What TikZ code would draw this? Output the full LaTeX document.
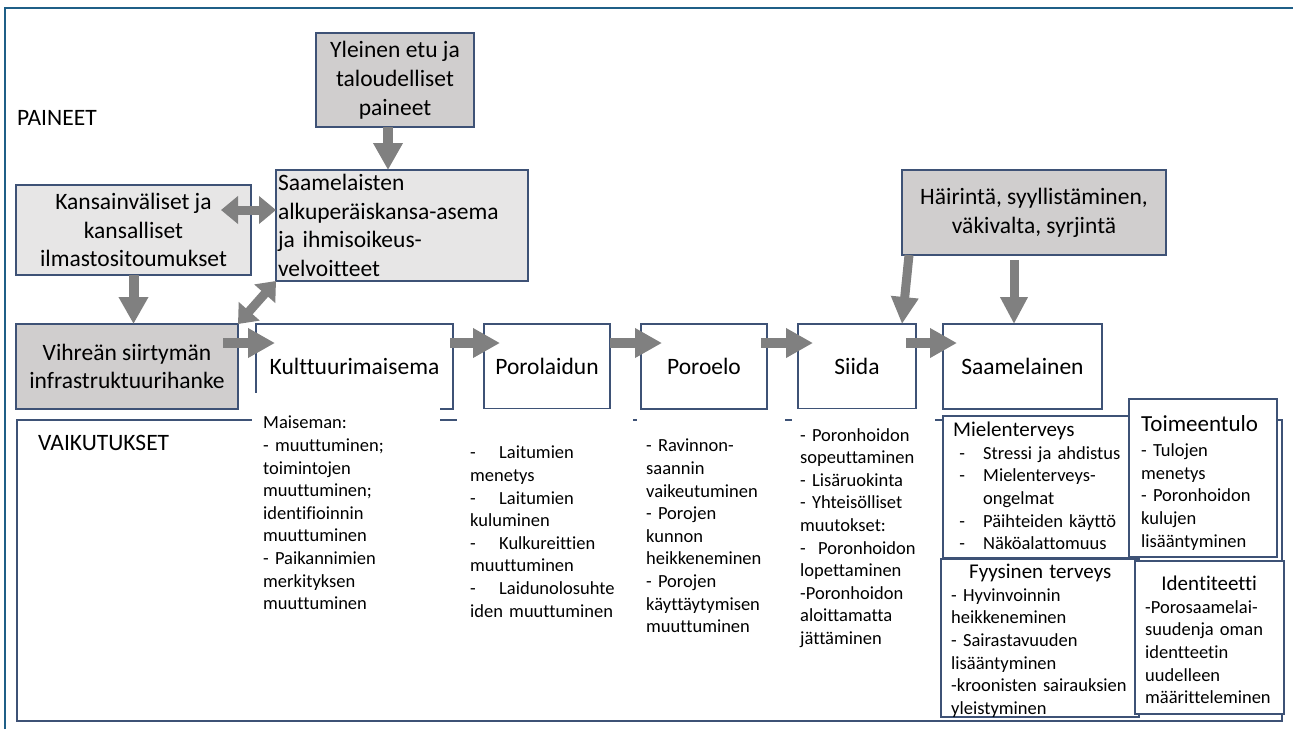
\documentclass[tikz,border=0pt]{standalone}
\usepackage{fontspec}
\setmainfont{Carlito}[Ligatures={NoCommon}]
\usetikzlibrary{arrows.meta}
\definecolor{boxline}{RGB}{62,82,118}
\definecolor{frameblue}{RGB}{31,95,135}
\definecolor{fillgray}{RGB}{231,230,230}
\definecolor{fillgraydark}{RGB}{208,206,206}
\definecolor{arrowgray}{RGB}{128,128,128}
\newcommand{\lblfont}{\fontsize{23.5}{28.8}\selectfont}
\newcommand{\txtfont}{\fontsize{18.5}{22.6}\selectfont\hyphenpenalty=10000\exhyphenpenalty=10000}
\newcommand{\hdfont}{\fontsize{21}{25}\selectfont}
\newcommand{\hdbigfont}{\fontsize{23}{27}\selectfont}
\begin{document}
\begin{tikzpicture}[x=1pt, y=-1pt,
  box/.style={draw=boxline, line width=1.2pt, inner sep=0pt, outer sep=0pt, font=\lblfont, align=center},
  lightbox/.style={box, fill=fillgray},
  darkbox/.style={box, fill=fillgraydark},
  stagebox/.style={box, fill=white, minimum width=#1, minimum height=85pt},
  impactbox/.style={draw=boxline, line width=1.2pt, fill=white, anchor=north west, inner sep=0pt, outer sep=0pt},
  column/.style={anchor=north west, fill=white, font=\txtfont, align=left},
  impacttext/.style={anchor=north west, inner sep=0pt, font=\txtfont, align=left, text width=#1},
  blockarrow/.style={draw=arrowgray, line width=10pt, -{Triangle[width=28pt,length=27pt]}},
  thinarrow/.style={draw=arrowgray, line width=9pt, -{Triangle[width=26pt,length=27pt]}},
  dblarrow/.style={draw=arrowgray, line width=9pt, {Triangle[width=27pt,length=17pt]}-{Triangle[width=27pt,length=17pt]}}]
\useasboundingbox (0,0) rectangle (1293,729);
\draw[frameblue, line width=2pt] (5,729) -- (5,8) -- (1293,8);
\node[anchor=west, inner sep=0pt, font=\lblfont] (paineet) at (17,118) {PAINEET};
\node[darkbox, minimum width=158pt, minimum height=94pt] (yleinen) at (395,80) {Yleinen etu ja\\taloudelliset\\paineet};
\node[lightbox, minimum width=252pt, minimum height=111pt, text width=248pt, align=left] (saamel) at (402,225.5) {Saamelaisten\\alkuperäiskansa-asema\\ja ihmisoikeus-\\velvoitteet};
\node[lightbox, minimum width=235pt, minimum height=90pt] (kansain) at (133.5,230) {Kansainväliset ja\\kansalliset\\ilmastositoumukset};
\node[darkbox, minimum width=264pt, minimum height=85pt] (hairinta) at (1034,212.5) {Häirintä, syyllistäminen,\\väkivalta, syrjintä};
\draw[boxline, line width=1.2pt] (17,420) rectangle (1282,721);
\node[anchor=west, inner sep=0pt, font=\lblfont] (vaikutukset) at (38,443) {VAIKUTUKSET};
\node[darkbox, minimum width=222pt, minimum height=85pt] (vihrea) at (127,366.5) {Vihreän siirtymän\\infrastruktuurihanke};
\node[stagebox=197pt] (kult) at (354.5,366.5) {Kulttuurimaisema};
\node[stagebox=126pt] (porolaidun) at (547,366.5) {Porolaidun};
\node[stagebox=126pt] (poroelo) at (704,366.5) {Poroelo};
\node[stagebox=118pt] (siida) at (857,366.5) {Siida};
\node[stagebox=159pt] (saamelainen) at (1022.5,366.5) {Saamelainen};
\node[column, inner xsep=11pt, inner ysep=23pt, text width=166pt] (maisemalist) at (252,393) {Maiseman:\\- muuttuminen;\\toimintojen\\muuttuminen;\\identifioinnin\\muuttuminen\\- Paikannimien\\merkityksen\\muuttuminen};
\node[column, inner xsep=13pt, inner ysep=37pt, text width=150pt] (laidunlist) at (457,409) {\makebox[29pt][l]{-}Laitumien\\menetys\\\makebox[29pt][l]{-}Laitumien\\kuluminen\\\makebox[29pt][l]{-}Kulkureittien\\muuttuminen\\\makebox[29pt][l]{-}Laidunolosuhte\\iden muuttuminen};
\node[column, inner xsep=9pt, inner ysep=26pt, text width=130pt] (poroelolist) at (637,413) {- Ravinnon-\\saannin\\vaikeutuminen\\- Porojen\\kunnon\\heikkeneminen\\- Porojen\\käyttäytymisen\\muuttuminen};
\node[column, inner xsep=8pt, inner ysep=19pt, text width=127pt] (siidalist) at (792,409) {- Poronhoidon\\sopeuttaminen\\- Lisäruokinta\\- Yhteisölliset\\muutokset:\\-\ \ Poronhoidon\\lopettaminen\\-Poronhoidon\\aloittamatta\\jättäminen};
\node[impactbox, minimum width=187pt, minimum height=142pt] (mielen) at (943,416) {};
\node[impacttext=175pt] (mielenlist) at (953,422) {{\hdfont Mielenterveys}\\\makebox[30pt][l]{\ -}Stressi ja ahdistus\\\makebox[30pt][l]{\ -}Mielenterveys-\\\hspace*{30pt}ongelmat\\\makebox[30pt][l]{\ -}Päihteiden käyttö\\\makebox[30pt][l]{\ -}Näköalattomuus};
\node[impactbox, minimum width=148pt, minimum height=158pt] (toimeentulo) at (1129,399) {};
\node[impacttext=134pt] (toimeentulolist) at (1141,415) {{\hdbigfont Toimeentulo}\\[3pt]- Tulojen\\menetys\\- Poronhoidon\\kulujen\\lisääntyminen};
\node[impactbox, minimum width=198pt, minimum height=158pt] (fyysinen) at (941,559) {};
\node[impacttext=185pt] (fyysinenlist) at (951,564) {{\hdfont\makebox[178pt]{Fyysinen terveys}}\\- Hyvinvoinnin\\heikkeneminen\\- Sairastavuuden\\lisääntyminen\\-kroonisten sairauksien\\yleistyminen};
\node[impactbox, minimum width=149pt, minimum height=153pt] (identiteetti) at (1135,561) {};
\node[impacttext=136pt] (identiteettilist) at (1145,576) {{\hdfont\makebox[128pt]{Identiteetti}}\\-Porosaamelai-\\suudenja oman\\identteetin\\uudelleen\\määritteleminen};
\draw[blockarrow] ([xshift=-7pt]yleinen.south) -- ([xshift=-14pt]saamel.north);
\draw[dblarrow] ([shift={(-30pt,20pt)}]kansain.east) -- ([yshift=15.5pt]saamel.west);
\draw[blockarrow] (kansain.south) -- (kansain.south |- vihrea.north);
\draw[dblarrow] (vihrea.north east) -- (saamel.south west);
\draw[blockarrow] ([shift={(-15pt,23.5pt)}]vihrea.east) -- ([shift={(19pt,23.5pt)}]kult.west);
\draw[blockarrow] ([shift={(-3pt,23.5pt)}]kult.east) -- ([shift={(16pt,23.5pt)}]porolaidun.west);
\draw[blockarrow] ([yshift=23.5pt]porolaidun.east) -- ([shift={(21pt,23.5pt)}]poroelo.west);
\draw[blockarrow] ([shift={(-6pt,23.5pt)}]poroelo.east) -- ([shift={(15pt,23.5pt)}]siida.west);
\draw[blockarrow] ([shift={(-10pt,23.5pt)}]siida.east) -- ([shift={(14pt,23.5pt)}]saamelainen.west);
\draw[thinarrow] ([xshift=7pt]hairinta.south west) -- ([xshift=-14pt]siida.north east);
\draw[thinarrow] ([shift={(-20pt,-5pt)}]hairinta.south) -- ([xshift=-8.5pt]saamelainen.north);
\end{tikzpicture}
\end{document}
